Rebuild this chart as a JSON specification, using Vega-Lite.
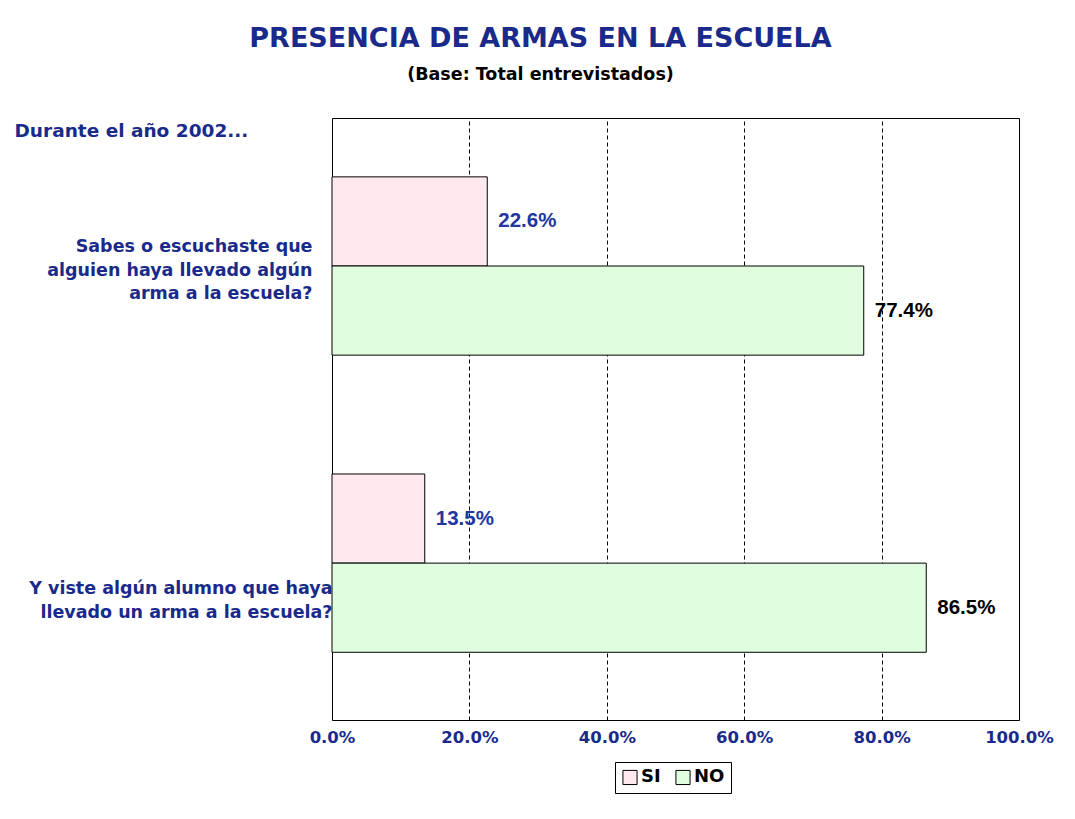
{
  "$schema": "https://vega.github.io/schema/vega-lite/v6.json",
  "width": 687,
  "height": 602,
  "autosize": {"type": "none"},
  "padding": {"left": 332, "top": 118, "right": 56, "bottom": 99},
  "background": "white",
  "title": {
    "text": "PRESENCIA DE ARMAS EN LA ESCUELA",
    "subtitle": "(Base: Total entrevistados)",
    "anchor": "middle",
    "dx": -135,
    "offset": 34,
    "font": "DejaVu Sans",
    "fontSize": 27,
    "fontWeight": "bold",
    "color": "#1A2A8A",
    "subtitleFont": "DejaVu Sans",
    "subtitleFontSize": 17.5,
    "subtitleFontWeight": "bold",
    "subtitleColor": "#000000",
    "subtitlePadding": 13
  },
  "data": {
    "values": [
      {"pregunta": "Sabes o escuchaste que|alguien haya llevado algún|arma a la escuela?", "orden": 1, "respuesta": "SI", "valor": 0.226},
      {"pregunta": "Sabes o escuchaste que|alguien haya llevado algún|arma a la escuela?", "orden": 1, "respuesta": "NO", "valor": 0.774},
      {"pregunta": "Y viste algún alumno que haya|llevado un arma a la escuela?", "orden": 2, "respuesta": "SI", "valor": 0.135},
      {"pregunta": "Y viste algún alumno que haya|llevado un arma a la escuela?", "orden": 2, "respuesta": "NO", "valor": 0.865}
    ]
  },
  "encoding": {
    "y": {
      "field": "pregunta",
      "type": "nominal",
      "sort": {"field": "orden"},
      "scale": {"paddingInner": 0.4, "paddingOuter": 0.213, "align": 0.465},
      "axis": {
        "title": "Durante el año 2002...",
        "titleAngle": 0,
        "titleAlign": "left",
        "titleBaseline": "middle",
        "titleX": -318,
        "titleY": 12,
        "titleFont": "DejaVu Sans",
        "titleFontSize": 18.5,
        "titleFontWeight": "bold",
        "titleColor": "#1A2A8A",
        "labelExpr": "split(datum.label, '|')",
        "labelFont": "DejaVu Sans",
        "labelFontSize": 17.5,
        "labelFontWeight": "bold",
        "labelColor": "#1A2A8A",
        "labelLineHeight": 23.5,
        "labelLimit": 400,
        "labelPadding": {"condition": {"test": "datum.value && indexof(datum.value, 'Y viste') == 0", "value": 0}, "value": 20},
        "labelOffset": {"condition": {"test": "datum.value && indexof(datum.value, 'Y viste') == 0", "value": 26}, "value": -19},
        "ticks": false,
        "domain": false
      }
    },
    "yOffset": {"field": "respuesta", "type": "nominal", "sort": ["SI", "NO"]},
    "x": {
      "field": "valor",
      "type": "quantitative",
      "scale": {"domain": [0, 1], "nice": false},
      "axis": {
        "title": null,
        "values": [0, 0.2, 0.4, 0.6, 0.8, 1],
        "format": ".1%",
        "labelFont": "DejaVu Sans",
        "labelFontSize": 16.5,
        "labelFontWeight": "bold",
        "labelColor": "#1A2A8A",
        "labelPadding": 9,
        "labelFlush": false,
        "ticks": false,
        "domain": false,
        "grid": true,
        "gridColor": "#000000",
        "gridDash": [4, 3],
        "gridWidth": 1,
        "gridOpacity": {"condition": {"test": "datum.value == 0 || datum.value == 1", "value": 0}, "value": 1}
      }
    }
  },
  "layer": [
    {
      "mark": {"type": "bar", "stroke": "#000000", "strokeWidth": 1},
      "encoding": {
        "color": {
          "field": "respuesta",
          "type": "nominal",
          "sort": ["SI", "NO"],
          "scale": {"domain": ["SI", "NO"], "range": ["#FFE9EE", "#E0FDE0"]},
          "legend": {
            "title": null,
            "orient": "none",
            "legendX": 283,
            "legendY": 644,
            "direction": "horizontal",
            "symbolType": "square",
            "symbolSize": 200,
            "symbolStrokeColor": "#000000",
            "symbolStrokeWidth": 1,
            "symbolOpacity": 1,
            "labelFont": "DejaVu Sans",
            "labelFontSize": 18,
            "labelFontWeight": "bold",
            "labelColor": "#000000",
            "labelOffset": 2,
            "columnPadding": 12,
            "strokeColor": "#000000",
            "padding": 6,
            "fillColor": "white"
          }
        }
      }
    },
    {
      "mark": {"type": "text", "align": "left", "baseline": "middle", "dx": 11, "font": "Liberation Sans", "fontSize": 20.5, "fontWeight": "bold"},
      "encoding": {
        "text": {"field": "valor", "type": "quantitative", "format": ".1%"},
        "color": {
          "condition": {"test": "datum.respuesta == 'SI'", "value": "#2236A0"},
          "value": "#000000"
        }
      }
    }
  ],
  "config": {
    "view": {"stroke": "#000000", "strokeWidth": 1}
  }
}
